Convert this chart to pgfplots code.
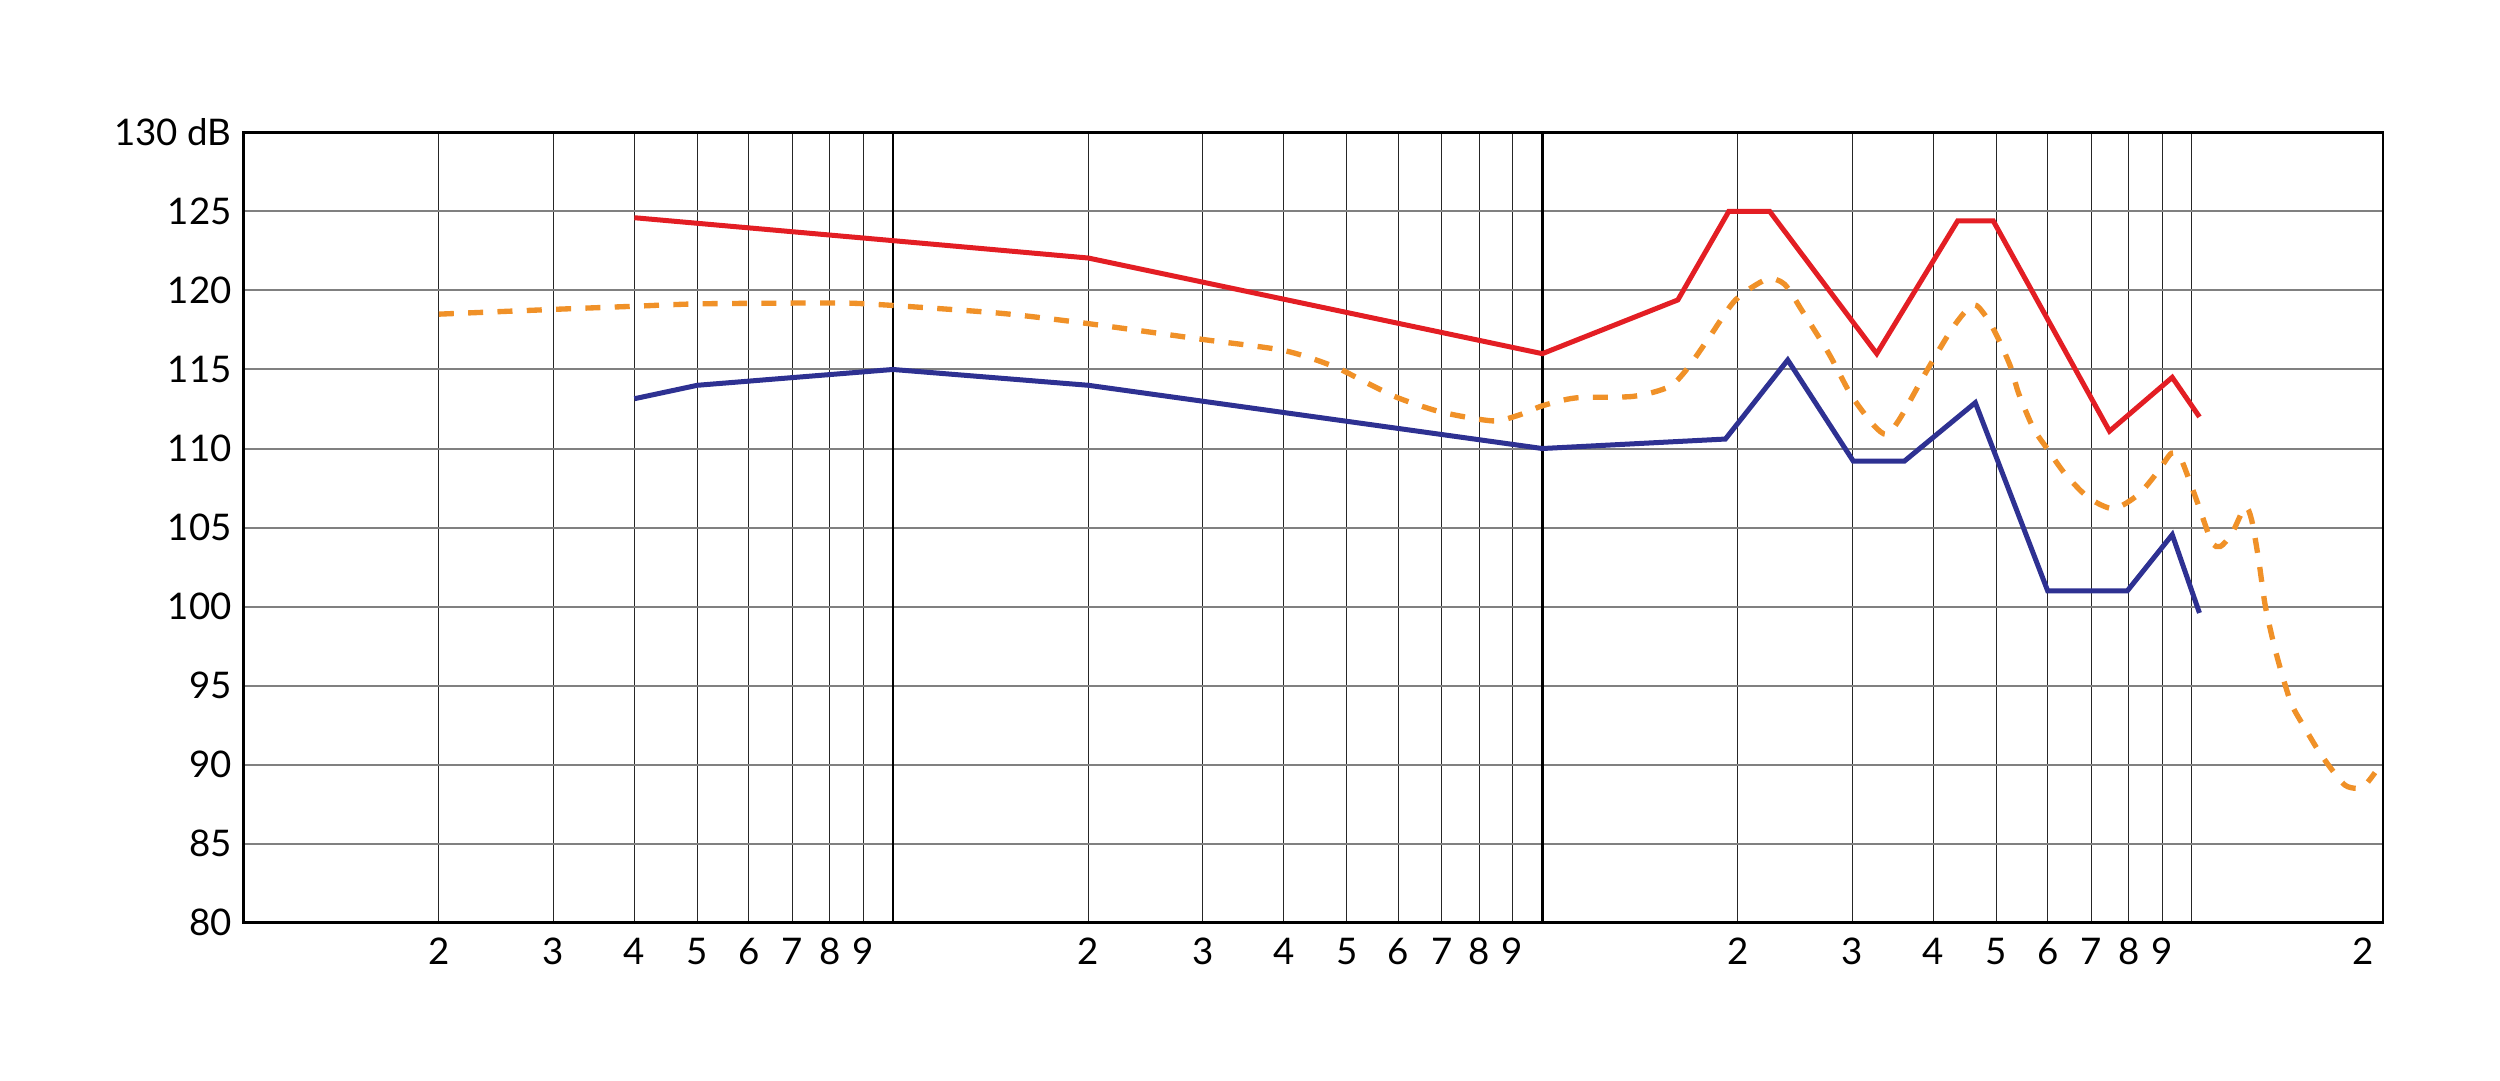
\documentclass[border=0pt]{standalone}
\usepackage{fontspec}
\setmainfont{Lato}
\usepackage{pgfplots}
\pgfplotsset{compat=1.18}
\definecolor{cred}{HTML}{E31E24}
\definecolor{cblue}{HTML}{2E3192}
\definecolor{corange}{HTML}{F09128}
\begin{document}
\begin{tikzpicture}
\begin{axis}[
  name=ax,
  scale only axis,
  width=641.8pt, height=237.1pt,
  xmode=log, xmin=10, xmax=19700,
  ymin=80, ymax=130,
  log basis x=10,
  xtick={20,30,40,50,60,70,80,90,100,200,300,400,500,600,700,800,900,1000,2000,3000,4000,5000,6000,7000,8000,9000,10000},
  xticklabels={2,3,4,5,6,7,8,9,{},2,3,4,5,6,7,8,9,{},2,3,4,5,6,7,8,9,{}},
  extra x ticks={18340},
  extra x tick labels={2},
  extra x tick style={grid=none, major tick length=0pt},
  ytick={80,85,90,95,100,105,110,115,120,125,130},
  yticklabels={80,85,90,95,100,105,110,115,120,125,130 dB},
  major tick length=0pt,
  minor tick num=0,
  xminorticks=false,
  grid=major,
  x grid style={black!85, line width=0.35pt},
  y grid style={black!50, line width=0.6pt},
  axis line style={black, line width=0.8pt},
  tick label style={font=\fontsize{11}{13}\selectfont, black},
  xticklabel style={yshift=-1pt},
]
\draw[black, line width=0.8pt] (axis cs:100,80) -- (axis cs:100,130);
\draw[black, line width=0.8pt] (axis cs:1000,80) -- (axis cs:1000,130);

% orange dashed (smooth)
\addplot[corange, line width=1.6pt, dash pattern=on 4.5pt off 4.3pt, smooth, tension=0.45] coordinates {
(20,118.5) (30,118.8) (40,119.0) (50,119.15) (70,119.2) (85,119.2) (100,119.05)
(147,118.55) (200,117.9) (300,116.9) (400,116.2) (477,115.2) (534,114.2) (600,113.2)
(700,112.3) (838,111.75) (918,112.1) (1000,112.7) (1125,113.2) (1381,113.3)
(1566,113.9) (1668,115.0) (1805,117.0) (1984,119.4) (2214,120.7) (2359,120.4)
(2513,118.7) (2762,116.0) (2987,113.4) (3233,111.5) (3389,110.9) (3553,111.9)
(3906,114.9) (4295,117.7) (4606,119.1) (4830,118.3) (5042,116.9) (5268,115.1)
(5411,113.5) (5700,111.3) (5986,110.0) (6380,108.4) (6930,106.9) (7576,106.2)
(8280,107.1) (8890,108.6) (9300,109.7) (9600,109.4) (9850,108.3) (10240,106.4)
(10730,104.1) (11060,103.8) (11520,104.6) (12080,106.3) (12360,105.5) (12670,103.0)
(12970,100.1) (13360,97.7) (13750,95.8) (14250,93.8) (14940,92.3) (15660,90.9)
(16420,89.7) (17220,88.7) (17950,88.5) (18480,88.7) (19150,89.5)
};

% red
\addplot[cred, line width=1.5pt] coordinates {
(40,124.6) (100,123.15) (200,122.05) (1000,116.0) (1617,119.4) (1937,125.0)
(2239,125.0) (3273,116.0) (4360,124.4) (4946,124.4) (7470,111.1) (9330,114.5)
(10275,112.0)
};

% blue
\addplot[cblue, line width=1.5pt] coordinates {
(40,113.15) (50,114.0) (100,115.0) (200,114.0) (1000,110.0) (1914,110.6)
(2387,115.6) (3012,109.2) (3609,109.2) (4642,112.9) (5999,101.0) (7960,101.0)
(9330,104.55) (10275,99.6)
};
\end{axis}
\path ([xshift=-73pt,yshift=-47.2pt]ax.south west) rectangle ([xshift=35.1pt,yshift=39.7pt]ax.north east);
\end{tikzpicture}
\end{document}
